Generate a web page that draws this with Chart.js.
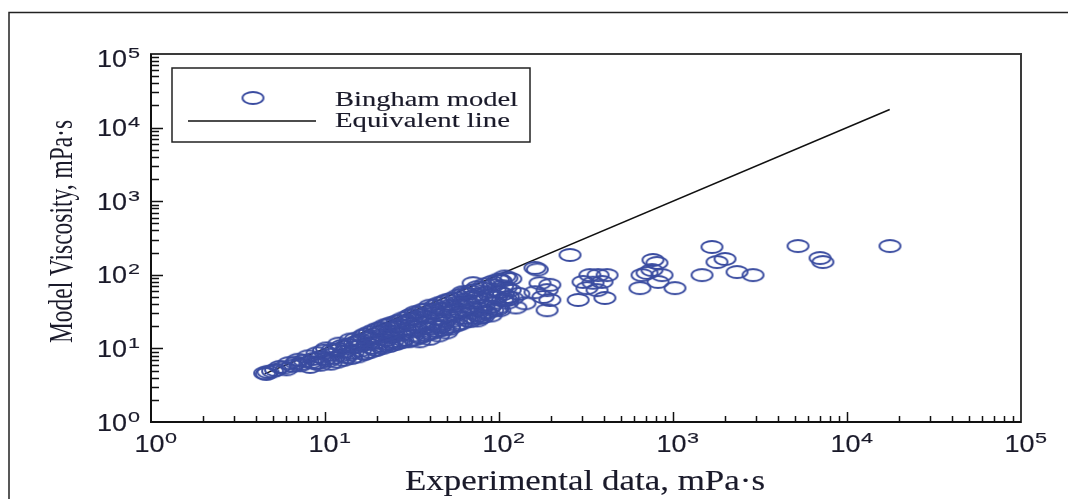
<!DOCTYPE html>
<html>
<head>
<meta charset="utf-8">
<script src="https://cdn.jsdelivr.net/npm/chart.js@4"></script>
<style>
  html, body { margin: 0; padding: 0; background: #fff; }
  #wrap { width: 1068px; height: 499px; }
</style>
</head>
<body>
<div id="wrap"><canvas id="viscChart" width="1068" height="499"></canvas></div>
<script>
// experimental viscosity (x) vs Bingham model viscosity (y), mPa·s
const expData = [
  4.5, 4.7, 4.6, 5.2, 5.5, 5.8, 6.2, 6.5, 6.8, 7.0,
  7.3, 7.6, 8.0, 8.3, 8.6, 9.0, 9.2, 9.5, 9.8, 10.2,
  10.5, 10.8, 11.2, 11.5, 12, 12.3, 12.8, 13.2, 13.5, 14,
  14.5, 15, 15.5, 16, 16.5, 17, 17.5, 18, 18.6, 19,
  19.5, 20, 20.5, 21, 21.5, 22, 22.5, 23, 23.5, 24,
  24.5, 25, 25.5, 26, 27, 27.5, 28, 29, 30, 30.5,
  31, 32, 33, 33.5, 34, 35, 36, 37, 38, 39,
  40, 41, 42, 43, 44, 45, 46, 47, 48, 50,
  51, 52, 54, 55, 57, 58, 60, 62, 64, 66,
  68, 70, 72, 74, 76, 78, 80, 82, 85, 88,
  90, 93, 95, 98, 100, 103, 105, 108, 110, 113,
  117, 5, 6, 7.2, 8.8, 10, 11, 12.5, 13.8, 14.8,
  16.2, 17.8, 19.2, 21.2, 23.2, 24.8, 26.5, 28.5, 29.5, 31.5,
  33, 35.5, 37.5, 40, 42, 44, 46, 49, 53, 56,
  59, 63, 67, 71, 75, 79, 84, 89, 96, 106,
  112, 116, 120, 125, 130,
  8.2, 9.4, 10.8, 11.8, 12.8, 14.2, 15.5, 16.8, 18.2, 19.8,
  21.5, 23.5, 25.5, 27.5, 30, 32.5, 35, 38, 41, 44,
  48, 52, 56, 61, 66, 72, 78, 85, 92, 99,
  15, 17, 19, 21, 23, 26, 28, 31, 34, 38,
  43, 48, 53, 58, 63, 69, 75, 83, 91, 99,
  12, 14, 16, 18.5, 21, 24, 27, 30, 34, 38,
  42, 47, 52, 58, 64, 70, 77, 86, 95, 105,
  40, 45, 35, 50,
  256, 161, 166, 1675, 5230, 17660, 7000, 7270, 1790, 1990,
  2333, 2884, 1468, 767, 809, 709, 865, 820, 646, 1026,
  333, 371, 418, 304, 347, 391, 320, 366, 285, 406,
  172, 196, 161, 189, 179, 196, 141, 189, 101, 111,
  97, 111, 89, 101, 75, 81, 71, 62, 664, 757
];
const modelData = [
  4.6, 4.8, 4.5, 5.1, 5.6, 5.5, 6.3, 5.8, 6.4, 7.0,
  6.2, 6.8, 7.8, 6.5, 7.2, 8.6, 6.4, 7.6, 9.3, 10.0,
  6.8, 8.2, 7.4, 9.5, 11.6, 8.0, 9.0, 7.6, 11.2, 13.2,
  8.8, 10.5, 12.5, 9.4, 14.8, 8.6, 11.5, 16.5, 10.2, 13.5,
  9.6, 18.5, 12, 15, 10.8, 20.5, 13, 11.5, 17, 22,
  12.4, 14.5, 19.5, 11.8, 23.5, 15.5, 13, 18, 27, 12.8,
  21, 15, 31, 17.5, 24, 14, 33, 19, 27, 16,
  38, 21, 30, 17.5, 25, 41, 19.5, 34, 22, 45,
  28, 18.5, 37, 24, 48, 21, 31, 42, 26, 55,
  23.5, 35, 62, 29, 44, 26, 66, 38, 31, 53,
  28, 72, 42, 34, 58, 82, 45, 95, 67, 50,
  88, 4.9, 5.2, 5.9, 6.3, 7.2, 9.6, 10.8, 8.3, 12,
  11, 13.8, 11.8, 17.5, 14.5, 16.5, 20.5, 16, 22.5, 25,
  19.5, 28, 22, 18.5, 34, 20, 29, 24, 32, 28,
  38, 33, 42, 31, 50, 34, 46, 37, 49, 55,
  42, 62, 48, 36, 55,
  5.6, 6.0, 6.2, 6.6, 7.0, 7.4, 7.8, 8.4, 9.0, 9.6,
  10.2, 10.8, 11.5, 12.2, 12.5, 13.2, 14.5, 15.2, 16, 17,
  18, 19.5, 20.5, 22, 24, 26, 28, 30, 33, 36,
  13.5, 15.5, 17.5, 19, 21, 23.5, 25.5, 28.5, 30, 34,
  38, 43, 47, 52, 56, 60, 68, 74, 80, 86,
  9.8, 11, 12.8, 14.5, 16.5, 18.5, 20.5, 23, 26, 29,
  32, 35, 38, 42, 46, 50, 54, 58, 63, 70,
  13.5, 15, 12.5, 16.5,
  186, 124, 118, 239, 246, 246, 169, 149, 149, 164,
  109, 99, 99, 159, 145, 106, 99, 80, 66, 66,
  99, 99, 99, 80, 78, 80, 66, 62, 45.5, 48.4,
  77, 73, 58, 62, 50, 45.5, 41, 33, 85, 90,
  50, 45.5, 36.5, 33, 24, 26.7, 77, 58, 99, 116
];
// equivalent (y = x) line
const lineX = [4.5, 17600];
const lineY = [4.5, 17600];
// decade exponents for ticks
const decades = [0, 1, 2, 3, 4, 5];

const markerColor = "#3a4ca0";
const textColor = "#1a1a2a";

// slightly flattened ring marker, like the source figure
function ringMarker(w, h, color, lw) {
    const c = document.createElement("canvas");
    c.width = w + 4;
    c.height = h + 4;
    const g = c.getContext("2d");
    g.strokeStyle = color;
    g.lineWidth = lw;
    g.beginPath();
    g.ellipse(c.width / 2, c.height / 2, w / 2, h / 2, 0, 0, Math.PI * 2);
    g.stroke();
    return c;
}
const ring = ringMarker(21, 12, markerColor, 1.9);

// text squeezed/stretched to a given width (hairline stroke to darken a little)
function fitText(ctx, text, x, y, font, width, align) {
    ctx.save();
    ctx.font = font;
    const sx = width / ctx.measureText(text).width;
    ctx.translate(x, y);
    ctx.scale(sx, 1);
    ctx.textAlign = align;
    ctx.textBaseline = "alphabetic";
    ctx.strokeStyle = ctx.fillStyle;
    ctx.lineWidth = 0.15;
    ctx.fillText(text, 0, 0);
    ctx.strokeText(text, 0, 0);
    ctx.restore();
}

const framePlugin = {
    id: "frame",
    beforeDraw(chart) {
        const ctx = chart.ctx;
        ctx.save();
        ctx.fillStyle = "#fff";
        ctx.fillRect(0, 0, chart.width, chart.height);
        // outer figure border (top + left)
        ctx.strokeStyle = "#222";
        ctx.lineWidth = 1.5;
        ctx.beginPath();
        ctx.moveTo(9, 499);
        ctx.lineTo(9, 12.5);
        ctx.lineTo(1068, 12.5);
        ctx.stroke();
        ctx.restore();
    },
    afterDraw(chart) {
        const ctx = chart.ctx;
        const xs = chart.scales.x, ys = chart.scales.y;
        const a = chart.chartArea;
        ctx.save();

        // plot box
        ctx.strokeStyle = "#3a3a3a";
        ctx.lineWidth = 2;
        ctx.strokeRect(a.left, a.top, a.right - a.left, a.bottom - a.top);
        ctx.strokeStyle = "#111";
        ctx.beginPath();
        ctx.moveTo(a.left, a.top);
        ctx.lineTo(a.left, a.bottom);
        ctx.lineTo(a.right, a.bottom);
        ctx.stroke();

        // inward ticks
        ctx.lineWidth = 1.5;
        ctx.beginPath();
        decades.slice(0, -1).forEach(k => {
            for (let m = 1; m <= 9; m++) {
                const v = m * Math.pow(10, k);
                const px = Math.round(xs.getPixelForValue(v)) + 0.5;
                const py = Math.round(ys.getPixelForValue(v)) + 0.5;
                const major = m === 1;
                if (k > 0 || m > 1) {
                    ctx.moveTo(px, a.bottom);
                    ctx.lineTo(px, a.bottom - (major ? 10 : 6));
                    ctx.moveTo(a.left, py);
                    ctx.lineTo(a.left + (major ? 12 : 8), py);
                }
            }
        });
        ctx.stroke();

        // tick labels 10^k
        ctx.fillStyle = textColor;
        decades.forEach(k => {
            const ty = ys.getPixelForValue(Math.pow(10, k)) + (k === 5 ? 4 : 0);
            fitText(ctx, "10", 127, ty + 8.5, "23px 'Liberation Sans'", 30, "right");
            fitText(ctx, String(k), 128, ty - 0.5, "14px 'Liberation Sans'", 12, "left");
            const tx = xs.getPixelForValue(Math.pow(10, k));
            fitText(ctx, "10", tx - 1.5, 452, "23px 'Liberation Sans'", 30, "center");
            fitText(ctx, String(k), tx + 14, 443, "14px 'Liberation Sans'", 12, "left");
        });

        // axis titles
        fitText(ctx, "Experimental data, mPa·s", 585, 490, "29px 'Liberation Serif'", 360, "center");
        ctx.save();
        ctx.font = "23px 'Liberation Serif'";
        const yTitle = "Model Viscosity, mPa·s";
        const len = ctx.measureText(yTitle).width;
        ctx.translate(72, 231.5);
        ctx.rotate(-Math.PI / 2);
        ctx.scale(223 / len, 1.5);
        ctx.textAlign = "center";
        ctx.fillText(yTitle, 0, 0);
        ctx.restore();

        // legend
        ctx.fillStyle = "#fff";
        ctx.fillRect(172, 68, 358, 74);
        ctx.strokeStyle = "#222";
        ctx.lineWidth = 1.5;
        ctx.strokeRect(172, 68, 358, 74);
        ctx.drawImage(ring, 253 - ring.width / 2, 98 - ring.height / 2);
        ctx.strokeStyle = "#111";
        ctx.lineWidth = 1.5;
        ctx.beginPath();
        ctx.moveTo(188, 121);
        ctx.lineTo(316, 121);
        ctx.stroke();
        ctx.fillStyle = textColor;
        fitText(ctx, "Bingham model", 335, 106, "21px 'Liberation Serif'", 183, "left");
        fitText(ctx, "Equivalent line", 335, 127, "21px 'Liberation Serif'", 175, "left");

        ctx.restore();
    }
};

function drawChart() {
    const ctx = document.getElementById("viscChart").getContext("2d");
    new Chart(ctx, {
        type: "scatter",
        data: {
            datasets: [
                {
                    label: "Bingham model",
                    data: expData.map((x, i) => ({ x: x, y: modelData[i] })),
                    pointStyle: ring,
                    pointRadius: 8,
                    showLine: false
                },
                {
                    label: "Equivalent line",
                    data: lineX.map((x, i) => ({ x: x, y: lineY[i] })),
                    showLine: true,
                    borderColor: "#111",
                    borderWidth: 1.5,
                    pointRadius: 0
                }
            ]
        },
        options: {
            responsive: false,
            animation: false,
            layout: { padding: { left: 151, top: 54, right: 47, bottom: 77 } },
            plugins: {
                legend: { display: false },
                tooltip: { enabled: false }
            },
            scales: {
                x: {
                    type: "logarithmic",
                    min: 1,
                    max: 100000,
                    grid: { display: false },
                    border: { display: false },
                    ticks: { display: false },
                    afterFit: s => { s.height = 0; }
                },
                y: {
                    type: "logarithmic",
                    min: 1,
                    max: 100000,
                    grid: { display: false },
                    border: { display: false },
                    ticks: { display: false },
                    afterFit: s => { s.width = 0; }
                }
            }
        },
        plugins: [framePlugin]
    });
}

// make sure the installed fonts are ready before the canvas text is drawn
Promise.all([
    document.fonts.load("23px 'Liberation Sans'"),
    document.fonts.load("23px 'Liberation Serif'")
]).then(drawChart, drawChart);
</script>
</body>
</html>
